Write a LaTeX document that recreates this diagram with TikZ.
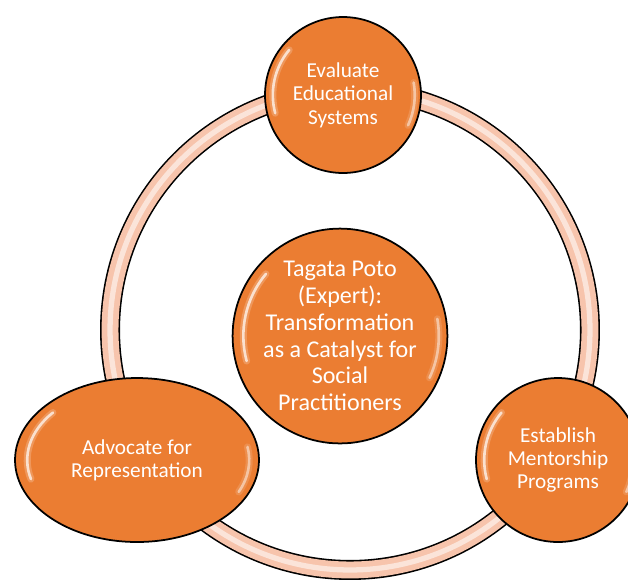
\documentclass[tikz,border=0pt]{standalone}
\usepackage{fontspec}
\setmainfont{Carlito}
\usetikzlibrary{calc,shapes.geometric}
\definecolor{tonga}{HTML}{EB7D32}
\definecolor{peach}{HTML}{F7C4AC}
\tikzset{
  streak/.style={white, line cap=round},
  ball/.style={
    draw=black, line width=1pt, fill=tonga, text=white,
    align=center, inner sep=0pt,
    path picture={
      % glossy rim streaks, a soft wide one under a thin bright one
      \foreach \w/\o in {4pt/.2, 1.5pt/.7} {
        \draw[streak, line width=\w, opacity=\o]
          let \p1=($(path picture bounding box.north east)-(path picture bounding box.center)$) in
          ($(path picture bounding box.center)+(195:{0.9*\x1} and {0.9*\y1})$)
          arc[start angle=195, end angle=140, x radius=0.9*\x1, y radius=0.9*\y1];
        \draw[streak, line width=\w, opacity=0.7*\o]
          let \p1=($(path picture bounding box.north east)-(path picture bounding box.center)$) in
          ($(path picture bounding box.center)+(-25:{0.92*\x1} and {0.92*\y1})$)
          arc[start angle=-25, end angle=10, x radius=0.92*\x1, y radius=0.92*\y1];
      }
    },
  },
  bigtxt/.style={font=\fontsize{13.7}{15.3}\selectfont},
  smalltxt/.style={font=\fontsize{12.1}{13.3}\selectfont},
}

\begin{document}
\begin{tikzpicture}[x=0.02cm, y=-0.02cm]
  \useasboundingbox (0,0) rectangle (628,586);
  \clip (0,0) rectangle (628,586);

  % ring behind the four balls
  \coordinate (hub) at (350,330);
  \draw[line width=11.4pt] (hub) circle[radius=4.8cm];
  \draw[peach, line width=9.6pt] (hub) circle[radius=4.8cm];
  \draw[white, line width=3pt, opacity=.55] (hub) circle[radius=4.8cm];

  \node[ball, circle, minimum size=3.12cm, smalltxt] (evaluate) at (343,95)
    {Evaluate\\Educational\\Systems};
  \node[ball, circle, minimum size=4.16cm, bigtxt] (expert) at (340,336)
    {Tagata Poto\\(Expert):\\Transformation\\as a Catalyst for\\Social\\Practitioners};
  \node[ball, ellipse, minimum width=4.88cm, minimum height=3.28cm, smalltxt] (advocate) at (137,460)
    {Advocate for\\Representation};
  \node[ball, circle, minimum size=3.28cm, smalltxt] (mentor) at (558,460)
    {Establish\\Mentorship\\Programs};

\end{tikzpicture}
\end{document}
